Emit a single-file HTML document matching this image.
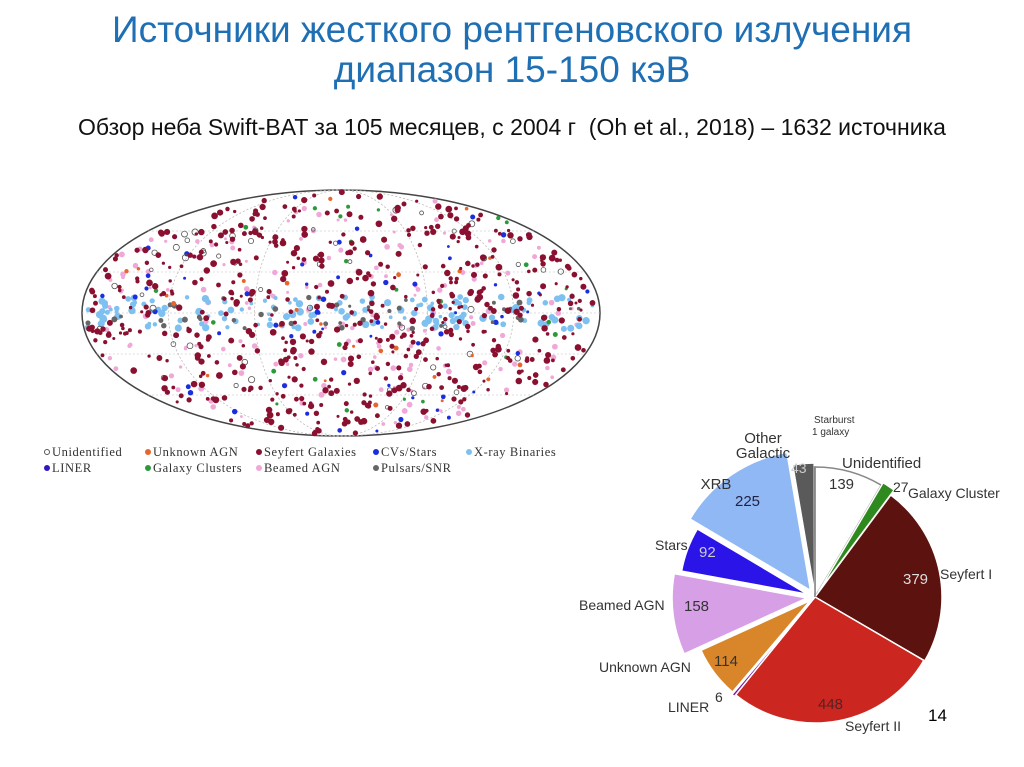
<!DOCTYPE html>
<html><head><meta charset="utf-8"><style>
body{margin:0;width:1024px;height:767px;background:#fff;overflow:hidden;position:relative;font-family:"Liberation Sans","DejaVu Sans",sans-serif}
.t{position:absolute;left:0;width:1024px;text-align:center;color:#1f6fb4;font-size:37px;line-height:42px}
.sub{position:absolute;left:0;width:1024px;text-align:center;top:114px;font-size:23px;color:#111}
.leg{position:absolute;font-family:"Liberation Serif","DejaVu Serif",serif;font-size:12.5px;letter-spacing:0.6px;color:#333;white-space:nowrap}
.leg span{position:absolute}
.d{display:inline-block;width:6px;height:6px;border-radius:50%;margin-right:2px;vertical-align:1px}
</style></head><body>
<div class="t" style="top:9px">Источники жесткого рентгеновского излучения</div>
<div class="t" style="top:49px">диапазон 15-150 кэВ</div>
<div class="sub">Обзор неба Swift-BAT за 105 месяцев, с 2004 г&nbsp; (Oh et al., 2018) – 1632 источника</div>
<svg id="sky" width="1024" height="767" style="position:absolute;left:0;top:0"></svg>
<div class="leg" style="left:44px;top:445px;width:620px;height:40px">
<span style="left:0;top:0"><i class="d" style="border:1px solid #555;width:4px;height:4px"></i>Unidentified</span>
<span style="left:101px;top:0"><i class="d" style="background:#e8662e"></i>Unknown AGN</span>
<span style="left:212px;top:0"><i class="d" style="background:#8a1030"></i>Seyfert Galaxies</span>
<span style="left:329px;top:0"><i class="d" style="background:#1a2ee0"></i>CVs/Stars</span>
<span style="left:422px;top:0"><i class="d" style="background:#7ec0f0"></i>X-ray Binaries</span>
<span style="left:0;top:16px"><i class="d" style="background:#3018c0"></i>LINER</span>
<span style="left:101px;top:16px"><i class="d" style="background:#2a9a3a"></i>Galaxy Clusters</span>
<span style="left:212px;top:16px"><i class="d" style="background:#f0a8d8"></i>Beamed AGN</span>
<span style="left:329px;top:16px"><i class="d" style="background:#666"></i>Pulsars/SNR</span>
</div>
<div style="position:absolute;left:928px;top:706px;font-size:17px">14</div>
<script>
var s=document.getElementById('sky'),h='';
var cx=341,cy=313,rx=259,ry=123;
h+='<ellipse cx="'+cx+'" cy="'+cy+'" rx="'+rx+'" ry="'+ry+'" fill="#fff" stroke="#444" stroke-width="1.5"/>';
for(var i=-2;i<=2;i++){h+='<ellipse cx="'+cx+'" cy="'+cy+'" rx="'+Math.abs(i*rx/3)+'" ry="'+ry+'" fill="none" stroke="#bbb" stroke-width="0.6" stroke-dasharray="2,2"/>';}
for(var j=-2;j<=2;j++){var y=cy+j*ry/3,w=rx*Math.sqrt(1-Math.pow(j/3,2));h+='<line x1="'+(cx-w)+'" x2="'+(cx+w)+'" y1="'+y+'" y2="'+y+'" stroke="#bbb" stroke-width="0.6" stroke-dasharray="2,2"/>';}
var seed=7;function r(){seed=(seed*16807)%2147483647;return seed/2147483647;}
function pt(band){while(true){var x=r()*2-1,y=band?(r()*2-1)*0.13:r()*2-1;if(x*x+y*y<0.97)return[cx+x*rx,cy+y*ry];}}
function dot(p,c,rad,open){h+='<circle cx="'+p[0].toFixed(1)+'" cy="'+p[1].toFixed(1)+'" r="'+rad+'" fill="'+(open?'none':c)+'" stroke="'+(open?'#555':'none')+'" stroke-width="0.8"/>';}
for(var k=0;k<170;k++)dot(pt(0),'#f0a8d8',1.4+r()*1.6);
for(var k=0;k<150;k++)dot(pt(1),'#7ec0f0',1.8+r()*2);
for(var k=0;k<60;k++)dot(pt(0),'#1a2ee0',1.4+r()*1.4);
for(var k=0;k<50;k++)dot(pt(0),'#555',1.8+r()*1.4,1);
for(var k=0;k<40;k++)dot(pt(1),'#666',1.5+r()*1.5);
for(var k=0;k<25;k++)dot(pt(0),'#2a9a3a',1.4+r()*1.2);
for(var k=0;k<25;k++)dot(pt(0),'#e8662e',1.4+r()*1.2);
for(var k=0;k<560;k++)dot(pt(0),'#8a1030',1.5+r()*1.9);
var pc=[815,597],tot=1632,a=-90;
var sl=[[139,'#ffffff',130,0],[27,'#2e8a1e',127,6],[379,'#5c120e',127,0],[448,'#cc2620',126,0],[6,'#7a1aa0',128,0],[114,'#d9862a',120,6],[158,'#d7a0e6',135,8],[92,'#2a14e8',128,8],[225,'#8fb8f4',140,8],[43,'#5a5a5a',130,4],[1,'#ffffff',130,0]];
sl.forEach(function(q){var da=q[0]/tot*360,m=(a+da/2)*Math.PI/180,ox=pc[0]+Math.cos(m)*q[3],oy=pc[1]+Math.sin(m)*q[3];
var a1=a*Math.PI/180,a2=(a+da)*Math.PI/180,R=q[2];
h+='<path d="M'+ox+','+oy+' L'+(ox+R*Math.cos(a1))+','+(oy+R*Math.sin(a1))+' A'+R+','+R+' 0 '+(da>180?1:0)+' 1 '+(ox+R*Math.cos(a2))+','+(oy+R*Math.sin(a2))+' Z" fill="'+q[1]+'" stroke="'+(q[1]=='#ffffff'?'#888':'#fff')+'" stroke-width="1.5"/>';a+=da;});
function tx(x,y,t,sz,c,anc){h+='<text x="'+x+'" y="'+y+'" font-size="'+sz+'" fill="'+(c||'#333')+'" text-anchor="'+(anc||'start')+'" font-family="Liberation Sans,sans-serif">'+t+'</text>';}
tx(814,423,'Starburst',10);tx(812,435,'1 galaxy',10);
tx(763,443,'Other',15,'#333','middle');tx(763,458,'Galactic',15,'#333','middle');
tx(842,468,'Unidentified',15);tx(829,489,'139',15);tx(893,492,'27',14);tx(908,498,'Galaxy Cluster',14);
tx(716,489,'XRB',15,'#333','middle');tx(735,506,'225',15,'#224');tx(791,473,'43',14,'#ccc');
tx(655,550,'Stars',14);tx(699,557,'92',15,'#ccc');
tx(579,610,'Beamed AGN',14);tx(684,611,'158',15);
tx(599,672,'Unknown AGN',14);tx(714,666,'114',15);
tx(668,712,'LINER',14);tx(715,702,'6',14);
tx(903,584,'379',15,'#ddd');tx(940,579,'Seyfert I',14);
tx(818,709,'448',15,'#522');tx(845,731,'Seyfert II',14);
s.innerHTML=h;
</script>
</body></html>
